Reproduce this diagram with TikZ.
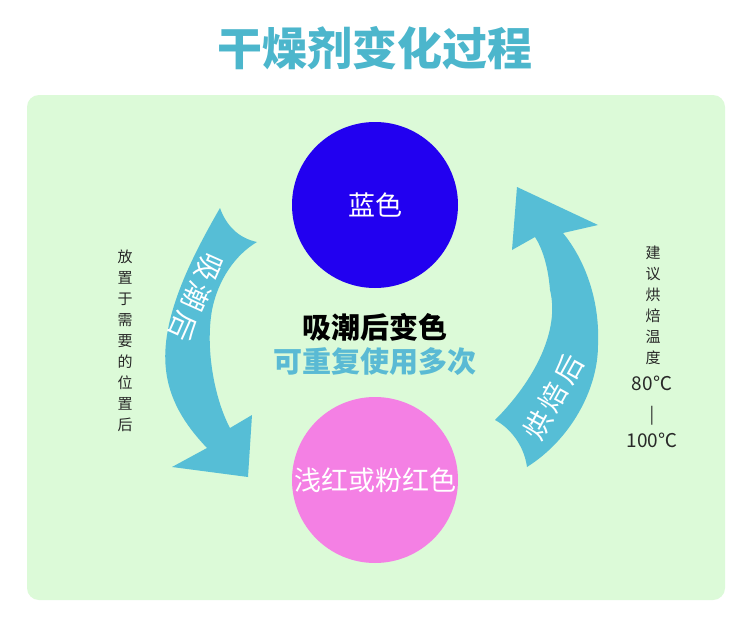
\documentclass[tikz,border=0pt]{standalone}
\usepackage{fontspec}
\setmainfont{Noto Sans CJK SC}
\definecolor{bggreen}{RGB}{220,250,216}
\definecolor{titlec}{RGB}{76,182,204}
\definecolor{arrowc}{RGB}{86,190,214}
\definecolor{bluec}{RGB}{34,0,240}
\definecolor{pinkc}{RGB}{244,128,228}
\definecolor{tealtext}{RGB}{90,186,212}
\definecolor{sidetext}{RGB}{40,40,40}
\tikzset{
  ball/.style={circle, inner sep=0pt, minimum size=166pt, text=white, font=\fontsize{27}{30}\selectfont},
  arrowtext/.style={text=white, inner sep=0pt, font=\fontsize{28}{30}\selectfont},
  sidebox/.style={text=sidetext, inner sep=0pt, align=center, font=\fontsize{15}{21}\selectfont},
  numtext/.style={text=sidetext, inner sep=0pt, font=\fontsize{19}{21}\selectfont},
}
\begin{document}
\begin{tikzpicture}[x=1pt,y=-1pt]
\useasboundingbox (0,0) rectangle (750,621);
\fill[white] (0,0) rectangle (750,621);
\fill[bggreen, rounded corners=12pt] (27,95) rectangle (725,600);

\node[text=titlec, font=\fontsize{45}{50}\selectfont\bfseries] (title) at (375,48) {干燥剂变化过程};

% left arrow
\fill[arrowc] (220,208) .. controls (190,260) and (160,320) .. (166,370)
  .. controls (170,405) and (190,430) .. (207,448)
  -- (172,467) -- (248,477) -- (252,415) -- (230,428)
  .. controls (215,400) and (205,350) .. (212,310)
  .. controls (218,280) and (235,255) .. (257,242)
  .. controls (238,238) and (226,225) .. (220,208) -- cycle;
% right arrow
\fill[arrowc] (517,187) -- (598,225) -- (563,233)
  .. controls (585,260) and (600,300) .. (598,345)
  .. controls (598,390) and (570,440) .. (527,467)
  .. controls (524,445) and (510,428) .. (495,420)
  .. controls (535,380) and (560,330) .. (550,290)
  .. controls (548,265) and (542,248) .. (535,237)
  -- (512,250) -- cycle;

\node[ball, fill=bluec] (blue) at (375,205) {蓝色};
\node[ball, fill=pinkc] (pink) at (375,480) {浅红或粉红色};

\node[font=\fontsize{29}{32}\selectfont\bfseries, text=black] (mid1) at (375,327) {吸潮后变色};
\node[font=\fontsize{29}{32}\selectfont\bfseries, text=tealtext] (mid2) at (375,362) {可重复使用多次};

\node[arrowtext, rotate=-114] (ltext) at (196,297) {吸\hspace{4pt}潮\hspace{4pt}后};
\node[arrowtext, rotate=61] (rtext) at (553,397) {烘\hspace{4pt}焙\hspace{4pt}后};

\node[sidebox] (lefttext) at (125,341) {放\\置\\于\\需\\要\\的\\位\\置\\后};
\node[sidebox] (righttext) at (653,305.5) {建\\议\\烘\\焙\\温\\度};
\node[numtext] (t80) at (652,383) {80℃};
\node[numtext, font=\fontsize{17}{21}\selectfont] (bar) at (652,416) {|};
\node[numtext] (t100) at (652,440) {100℃};
\end{tikzpicture}
\end{document}
